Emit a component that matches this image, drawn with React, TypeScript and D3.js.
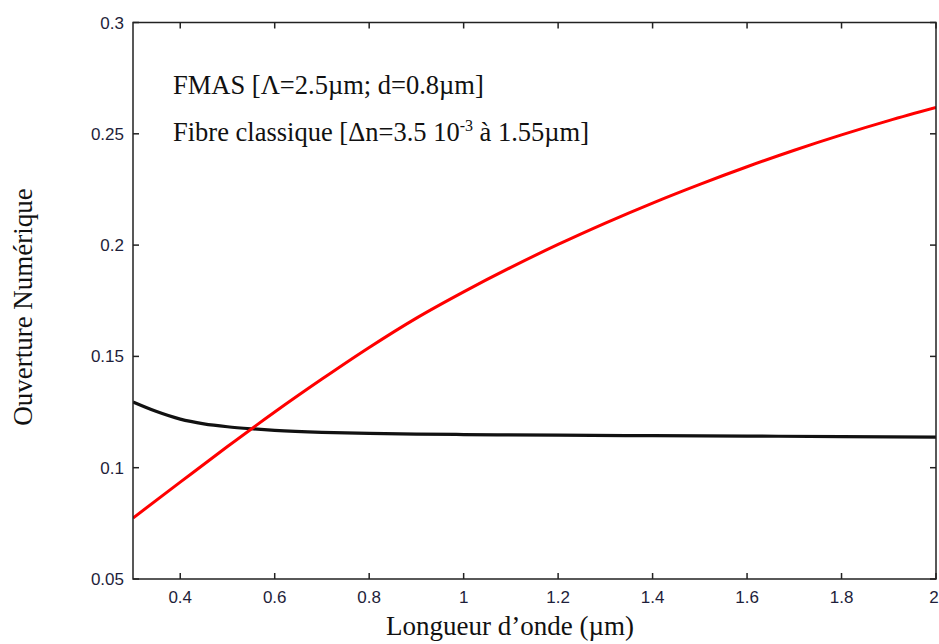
import React from "react";
import * as d3 from "d3";

const redX = [0.3, 0.4, 0.5, 0.6, 0.7, 0.8, 0.9, 1.0, 1.1, 1.2, 1.3, 1.4, 1.5, 1.6, 1.7, 1.8, 1.9, 2.0];
const redY = [0.0774, 0.0935, 0.1095, 0.125, 0.1398, 0.154, 0.1672, 0.179, 0.19, 0.2003, 0.2099, 0.2189, 0.2273, 0.2352, 0.2426, 0.2495, 0.2559, 0.2618];
const blackX = [0.3, 0.35, 0.4, 0.45, 0.5, 0.55, 0.6, 0.7, 0.8, 0.9, 1.0, 1.2, 1.4, 1.6, 1.8, 2.0];
const blackY = [0.1295, 0.1252, 0.1218, 0.1197, 0.1184, 0.1175, 0.1168, 0.1159, 0.1154, 0.1151, 0.1149, 0.1146, 0.1144, 0.1142, 0.114, 0.1137];
const xTicks = [0.4, 0.6, 0.8, 1, 1.2, 1.4, 1.6, 1.8, 2];
const yTicks = [0.05, 0.1, 0.15, 0.2, 0.25, 0.3];
const annotations = ["FMAS [Λ=2.5µm; d=0.8µm]"];

const W = 939, H = 644;
const L = 133, R = 936, T = 22.5, B = 579;

export default function App() {
  const x = d3.scaleLinear().domain([0.3, 2]).range([L, R]);
  const y = d3.scaleLinear().domain([0.05, 0.3]).range([B, T]);
  const line = d3.line<[number, number]>().x(d => x(d[0])).y(d => y(d[1])).curve(d3.curveMonotoneX);
  const red = line(redX.map((v, i) => [v, redY[i]]) as [number, number][]) || "";
  const black = line(blackX.map((v, i) => [v, blackY[i]]) as [number, number][]) || "";
  const tickFont = "'Liberation Sans', Arial, sans-serif";
  const serif = "'Liberation Serif', 'Times New Roman', serif";
  const tickColor = "#1e1e3a";
  const fmt = (v: number) => String(v);
  return (
    <svg width={W} height={H} style={{ position: "absolute", left: 0, top: 0, background: "#fff" }}>
      <defs>
        <clipPath id="clip"><rect x={L} y={T} width={R - L} height={B - T} /></clipPath>
      </defs>
      <rect x={0} y={0} width={W} height={H} fill="#fff" />
      <g clipPath="url(#clip)">
        <path d={black} fill="none" stroke="#111" strokeWidth={3.2} />
        <path d={red} fill="none" stroke="#ff0000" strokeWidth={3} />
      </g>
      <rect x={L} y={T} width={R - L} height={B - T} fill="none" stroke="#222" strokeWidth={1.5} />
      {xTicks.map(t => (
        <g key={"x" + t}>
          <line x1={x(t)} x2={x(t)} y1={B} y2={B - 6} stroke="#222" strokeWidth={1.5} />
          <line x1={x(t)} x2={x(t)} y1={T} y2={T + 6} stroke="#222" strokeWidth={1.5} />
          <text x={t === 2 ? x(t) - 2 : x(t)} y={603} textAnchor="middle" fontFamily={tickFont} fontSize={17} fill={tickColor}>{fmt(t)}</text>
        </g>
      ))}
      {yTicks.map(t => (
        <g key={"y" + t}>
          <line x1={L} x2={L + 6} y1={y(t)} y2={y(t)} stroke="#222" strokeWidth={1.5} />
          <line x1={R} x2={R - 6} y1={y(t)} y2={y(t)} stroke="#222" strokeWidth={1.5} />
          <text x={124} y={y(t) + 6} textAnchor="end" fontFamily={tickFont} fontSize={17} fill={tickColor}>{fmt(t)}</text>
        </g>
      ))}
      <text x={173} y={94} fontFamily={serif} fontSize={26.5} fill="#111">{annotations[0]}</text>
      <text x={173} y={141} fontFamily={serif} fontSize={26.5} fill="#111">
        Fibre classique [Δn=3.5 10<tspan dy={-10} fontSize={16}>-3</tspan><tspan dy={10}> à 1.55µm]</tspan>
      </text>
      <text x={510} y={635} textAnchor="middle" fontFamily={serif} fontSize={27} fill="#111">Longueur d’onde (µm)</text>
      <text transform={`translate(32,307) rotate(-90)`} textAnchor="middle" fontFamily={serif} fontSize={27} fill="#111">Ouverture Numérique</text>
    </svg>
  );
}
